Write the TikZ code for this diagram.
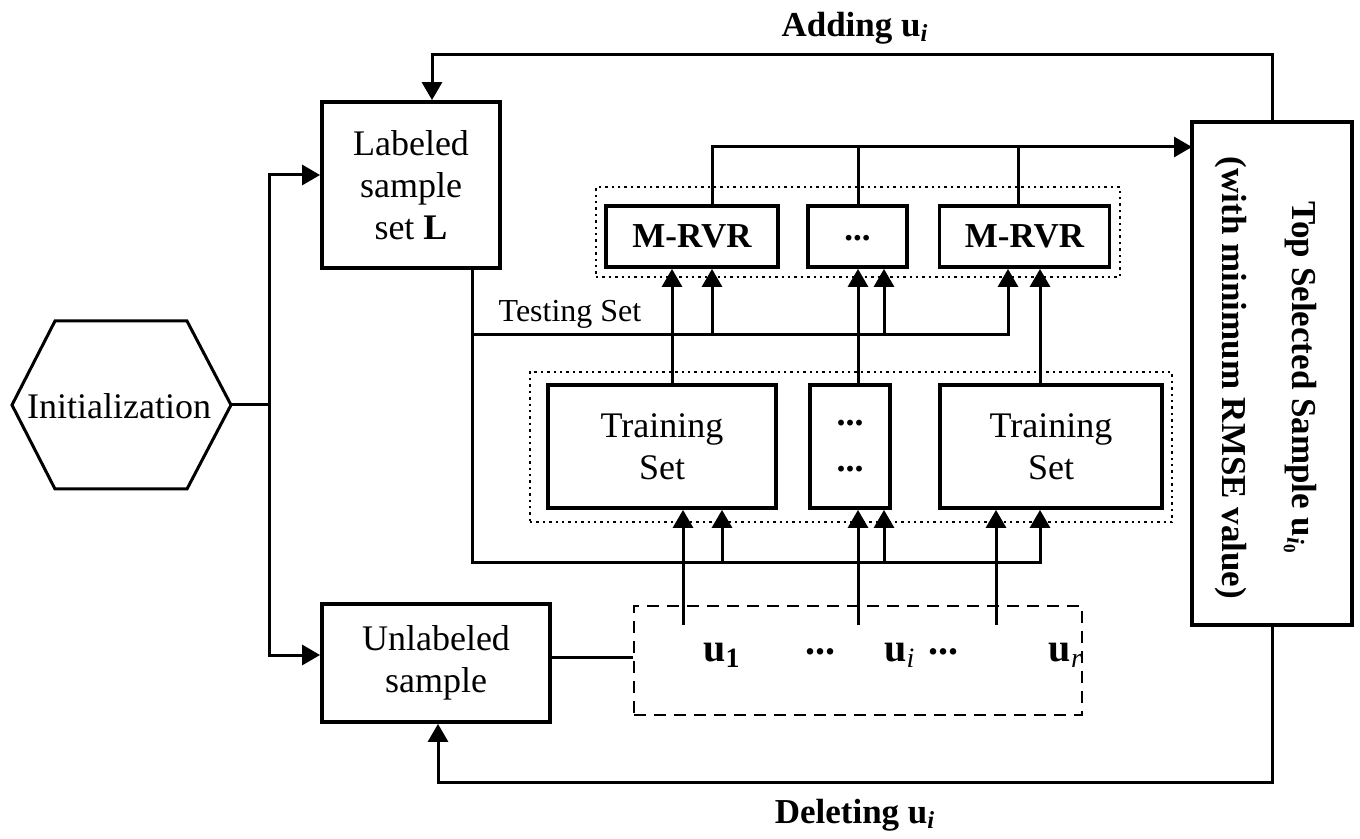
\documentclass[tikz,border=0pt]{standalone}
\usepackage{fontspec}
\setmainfont{Liberation Serif}
\usetikzlibrary{arrows.meta,calc}
\newcommand\uvec[1]{\textbf{u}\textsubscript{#1}}
\begin{document}
\begin{tikzpicture}[x=0.5pt,y=-0.5pt,
  every node/.style={font=\fontsize{18}{21}\selectfont, align=center, inner sep=0pt},
  box/.style={draw, line width=1.9pt},
  con/.style={line width=1.5pt},
  arr/.style={con, -{Triangle[length=9pt,width=10pt]}},
  grp/.style={draw, dotted, line width=1.2pt},
  lbl/.style={font=\fontsize{17.5}{21}\selectfont\bfseries},
  ulbl/.style={font=\fontsize{20}{22}\selectfont}]
\useasboundingbox (0,0) rectangle (1360,839);

% hexagon
\draw[line width=1.5pt, line join=miter] (12,405) -- (55,321) -- (187,321) -- (231,405) -- (187,489) -- (55,489) -- cycle;
\node (init) at (119,406) {Initialization};
\coordinate (ie) at (231,405);
\coordinate (jn) at (269,405);

% main boxes
\node[box, minimum width=89pt, minimum height=83pt] (lab) at (411,185) {Labeled\\sample\\set \textbf{L}};
\node[box, minimum width=114pt, minimum height=59pt] (unl) at (436,663) {Unlabeled\\sample};
\node[draw, dashed, line width=1.2pt, dash pattern=on 6pt off 4pt, minimum width=224pt, minimum height=54.5pt] (ds) at (858,660.5) {};
\node[box, minimum width=80pt, minimum height=251.5pt] (rt) at (1272,373.5) {};
\node[rotate=-90, align=center, font=\fontsize{17.5}{35}\selectfont\bfseries] (rtt) at (1266,378) {Top Selected Sample \textbf{u}\textsubscript{\textit{i}\textsubscript{0}}\\(with minimum RMSE value)};

% group boxes
\node[grp, minimum width=321pt, minimum height=75pt] (tg) at (851,447) {};
\node[grp, minimum width=262pt, minimum height=45pt] (mg) at (858,232) {};

% training sets
\node[box, minimum width=114pt, minimum height=61.5pt] (tr1) at (662,446.5) {Training\\Set};
\node[box, minimum width=40pt, minimum height=61.5pt] (tr2) at (850,446.5) {\textbf{...}\\[2pt]\textbf{...}};
\node[box, minimum width=111pt, minimum height=61.5pt] (tr3) at (1051,446.5) {Training\\Set};

% M-RVR
\node[box, minimum width=86pt, minimum height=30.5pt, lbl] (mr1) at (692,236.5) {M-RVR};
\node[box, minimum width=49.5pt, minimum height=30.5pt, lbl] (mr2) at (857.5,236.5) {\raisebox{-4pt}{...}};
\node[box, minimum width=85pt, minimum height=30.5pt, lbl] (mr3) at (1024.5,236.5) {M-RVR};

% labels
\node[lbl] (add) at (855,28) {Adding \uvec{\textit{i}}};
\node[lbl] (del) at (855,815) {Deleting \uvec{\textit{i}}};
\node[font=\fontsize{16}{19}\selectfont] (ts) at (570,314) {Testing Set};
\node[ulbl] (u1) at (722,655) {\uvec{\textbf{1}}};
\node[ulbl] (ud1) at (820,652) {\textbf{...}};
\node[ulbl] (ui) at (900,655) {\uvec{\textit{i}}};
\node[ulbl] (ud2) at (943,652) {\textbf{...}};
\node[ulbl] (ur) at (1066,655) {\uvec{\textit{r}}};

% init connectors
\draw[con] (ie) -- (jn);
\draw[arr] (jn) |- ([yshift=5pt]lab.west);
\draw[arr] (jn) |- ([yshift=4pt]unl.west);

% adding loop
\coordinate (tl) at (432,55);
\draw[arr] (rt.north) |- (tl) -- (tl |- lab.north);
% deleting loop
\coordinate (bl) at (438,782);
\draw[arr] (rt.south) |- (bl) -- (bl |- unl.south);

% unlabeled to dashed
\draw[con] ([yshift=3pt]unl.east) -- ([yshift=3pt]unl.east -| ds.west);

% labeled down to bottom line and testing line
\coordinate (ls) at (472,268);
\coordinate (hb) at (1040,562);
\coordinate (ht) at (1008,335);
\draw[arr] (ls) |- (hb) -- (hb |- tr3.south);
\draw[arr] (ls |- ht) -- (ht) -- (ht |- mr3.south);
\coordinate (hb1) at (722,562);
\coordinate (hb2) at (884,562);
\draw[arr] (hb1) -- (hb1 |- tr1.south);
\draw[arr] (hb2) -- (hb2 |- tr2.south);
\coordinate (ht1) at (712,335);
\coordinate (ht2) at (884,335);
\draw[arr] (ht1) -- (ht1 |- mr1.south);
\draw[arr] (ht2) -- (ht2 |- mr2.south);

% u lines into training
\coordinate (ul1) at (683,625);
\coordinate (ul2) at (858,625);
\coordinate (ul3) at (996,625);
\draw[arr] (ul1) -- (ul1 |- tr1.south);
\draw[arr] (ul2) -- (ul2 |- tr2.south);
\draw[arr] (ul3) -- (ul3 |- tr3.south);

% training to M-RVR
\coordinate (t1) at (672,385);
\coordinate (t2) at (858,385);
\coordinate (t3) at (1040,385);
\draw[arr] (t1) -- (t1 |- mr1.south);
\draw[arr] (t2) -- (t2 |- mr2.south);
\draw[arr] (t3) -- (t3 |- mr3.south);

% M-RVR to right box
\coordinate (hr) at (1192,147);
\coordinate (m1) at (712,206);
\coordinate (m2) at (858,206);
\coordinate (m3) at (1018,206);
\draw[arr] (m1) |- (hr);
\draw[con] (m2) -- (m2 |- hr);
\draw[con] (m3) -- (m3 |- hr);
\end{tikzpicture}
\end{document}
